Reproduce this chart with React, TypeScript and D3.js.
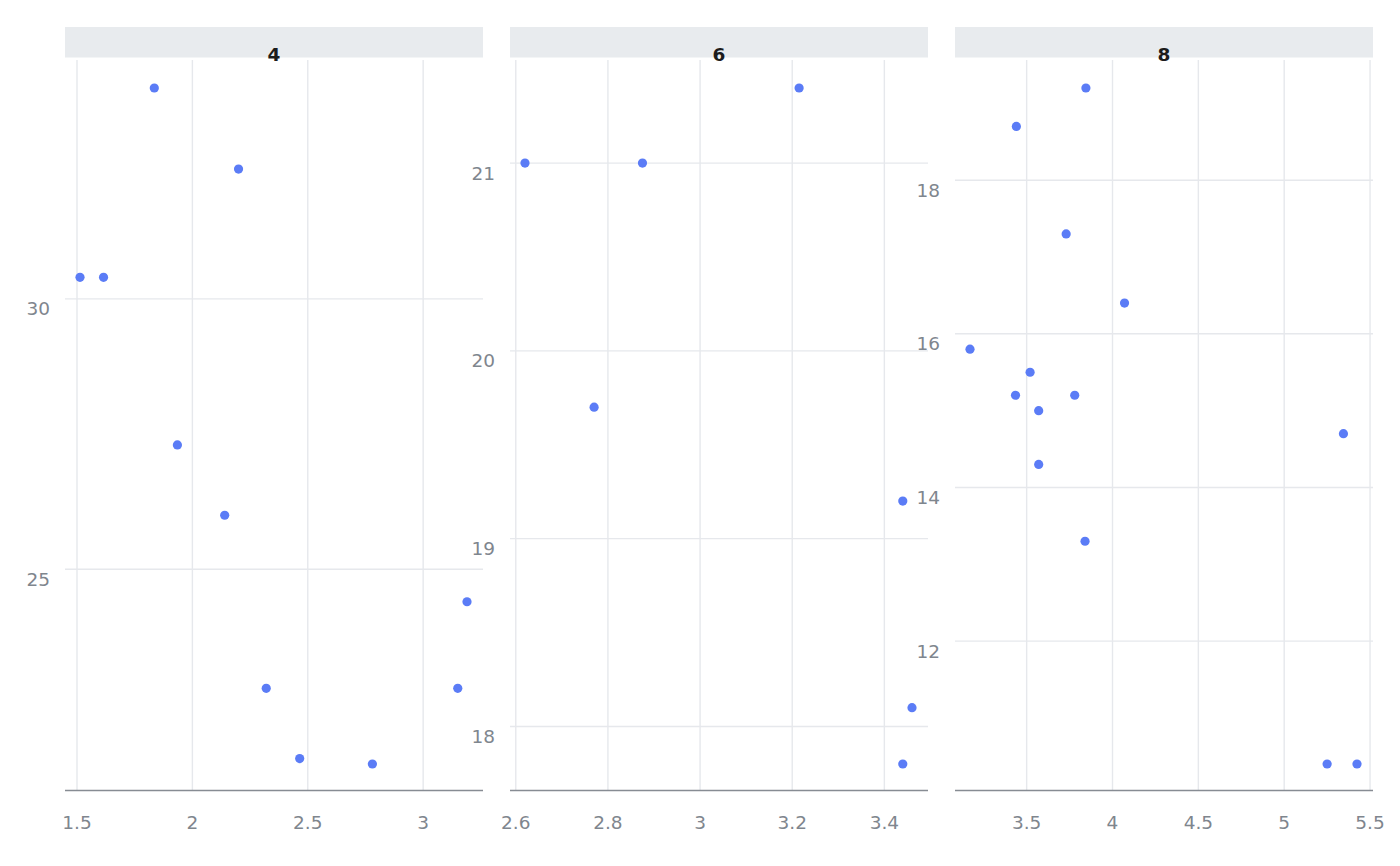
import { useMemo } from "react";
import * as d3 from "d3";

const cylGroups = ["4", "6", "8"];

const wt4 = [2.32, 3.19, 3.15, 2.2, 1.615, 1.835, 2.465, 1.935, 2.14, 1.513, 2.78];
const mpg4 = [22.8, 24.4, 22.8, 32.4, 30.4, 33.9, 21.5, 27.3, 26.0, 30.4, 21.4];

const wt6 = [2.62, 2.875, 3.215, 3.46, 3.44, 3.44, 2.77];
const mpg6 = [21.0, 21.0, 21.4, 18.1, 19.2, 17.8, 19.7];

const wt8 = [3.44, 3.57, 4.07, 3.73, 3.78, 5.25, 5.424, 5.345, 3.52, 3.435, 3.84, 3.845, 3.17, 3.57];
const mpg8 = [18.7, 14.3, 16.4, 17.3, 15.2, 10.4, 10.4, 14.7, 15.5, 15.2, 13.3, 19.2, 15.8, 15.0];

const xTicks = [
  [1.5, 2, 2.5, 3],
  [2.6, 2.8, 3, 3.2, 3.4],
  [3.5, 4, 4.5, 5, 5.5],
];
const yTicks = [
  [25, 30],
  [18, 19, 20, 21],
  [12, 14, 16, 18],
];

const WIDTH = 1400;
const HEIGHT = 866;
const panelLeft0 = 65;
const panelW = 418;
const panelGap = 27;
const stripTop = 27;
const stripH = 30.5;
const plotTop = 60;
const plotBottom = 790.5;

const font = "'DejaVu Sans', sans-serif";
const labelColor = "#7f868e";
const gridColor = "#e6e8ec";
const pointColor = "#5b7cf6";

export default function App() {
  const panels = useMemo(() => {
    const wts = [wt4, wt6, wt8];
    const mpgs = [mpg4, mpg6, mpg8];
    return cylGroups.map((cyl, i) => {
      const left = panelLeft0 + i * (panelW + panelGap);
      const right = left + panelW;
      const xs = wts[i];
      const ys = mpgs[i];
      const x = d3
        .scaleLinear()
        .domain(d3.extent(xs) as [number, number])
        .range([left + 15, right - 16]);
      const y = d3
        .scaleLinear()
        .domain(d3.extent(ys) as [number, number])
        .range([764, 88]);
      const points = xs.map((w, j) => ({ wt: w, mpg: ys[j] }));
      return { cyl, left, right, x, y, points, xt: xTicks[i], yt: yTicks[i] };
    });
  }, []);

  return (
    <svg
      width={WIDTH}
      height={HEIGHT}
      style={{ position: "absolute", left: 0, top: 0, background: "#fff" }}
      fontFamily={font}
    >
      {panels.map((p) => (
        <g key={p.cyl}>
          {/* strip */}
          <rect x={p.left} y={stripTop} width={panelW} height={stripH} fill="#e8ebee" />
          <text
            x={(p.left + p.right) / 2}
            y={61}
            textAnchor="middle"
            fontSize={18.5}
            fontWeight="bold"
            fill="#1c1c1c"
          >
            {p.cyl}
          </text>

          {/* grid */}
          {p.xt.map((t) => (
            <line
              key={"gx" + t}
              x1={p.x(t)}
              x2={p.x(t)}
              y1={plotTop}
              y2={plotBottom}
              stroke={gridColor}
              strokeWidth={1.4}
            />
          ))}
          {p.yt.map((t) => (
            <line
              key={"gy" + t}
              x1={p.left}
              x2={p.right}
              y1={p.y(t)}
              y2={p.y(t)}
              stroke={gridColor}
              strokeWidth={1.4}
            />
          ))}

          {/* y labels */}
          {p.yt.map((t) => (
            <text
              key={"ly" + t}
              x={p.left - 15}
              y={p.y(t) + 10}
              dy="0.35em"
              textAnchor="end"
              fontSize={18.5}
              fill={labelColor}
            >
              {d3.format("")(t)}
            </text>
          ))}

          {/* x axis */}
          <line
            x1={p.left}
            x2={p.right}
            y1={plotBottom}
            y2={plotBottom}
            stroke="#878c93"
            strokeWidth={1.5}
          />
          {p.xt.map((t) => (
            <text
              key={"lx" + t}
              x={p.x(t)}
              y={823}
              dy="0.35em"
              textAnchor="middle"
              fontSize={18.5}
              fill={labelColor}
            >
              {d3.format("")(t)}
            </text>
          ))}

          {/* points */}
          {p.points.map((d, j) => (
            <circle key={j} cx={p.x(d.wt)} cy={p.y(d.mpg)} r={4.6} fill={pointColor} />
          ))}
        </g>
      ))}
    </svg>
  );
}
